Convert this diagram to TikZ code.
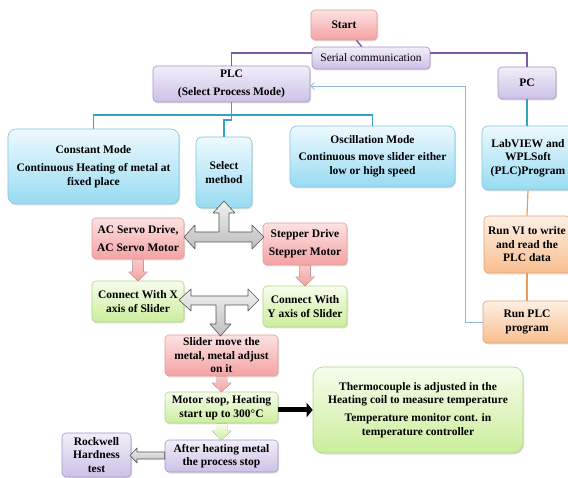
\documentclass[tikz,border=0pt]{standalone}
\usepackage{fontspec}
\setmainfont{Liberation Serif}
\usetikzlibrary{shadows,arrows.meta,calc}
\definecolor{pinkT}{HTML}{FCE2E2}\definecolor{pinkB}{HTML}{F4A2A2}\definecolor{pinkD}{HTML}{E39A9A}
\definecolor{lavT}{HTML}{F2EEF9}\definecolor{lavB}{HTML}{CDC1E6}\definecolor{lavD}{HTML}{A593C9}
\definecolor{cyanT}{HTML}{EDF9FD}\definecolor{cyanB}{HTML}{98DBF2}\definecolor{cyanD}{HTML}{7FC6DE}
\definecolor{orT}{HTML}{FEF0E5}\definecolor{orB}{HTML}{F8BE8E}\definecolor{orD}{HTML}{E3A276}
\definecolor{grT}{HTML}{F7FCEC}\definecolor{grB}{HTML}{CBEE9C}\definecolor{grD}{HTML}{AFD58A}
\definecolor{purL}{HTML}{7D5BA6}\definecolor{tealL}{HTML}{31A3C4}\definecolor{orL}{HTML}{EE9A5C}\definecolor{bluL}{HTML}{8FB3DE}
\newcommand\fs{\fontsize{11.5}{13.5}\selectfont\bfseries}
\tikzset{
  bx/.style={rounded corners=4pt, inner sep=0pt, align=center, font=\fs, line width=0.6pt,
    drop shadow={shadow xshift=1pt, shadow yshift=-1.5pt, opacity=0.25}},
  wh/.style 2 args={minimum width=#1pt, minimum height=#2pt},
  pinkbox/.style={bx, draw=pinkD, top color=pinkT, bottom color=pinkB},
  lavbox/.style={bx, draw=lavD, top color=lavT, bottom color=lavB},
  cyanbox/.style={bx, draw=cyanD, top color=cyanT, bottom color=cyanB},
  orbox/.style={bx, draw=orD, top color=orT, bottom color=orB},
  grbox/.style={bx, draw=grD, top color=grT, bottom color=grB},
  purline/.style={purL, line width=1.4pt},
  tealline/.style={tealL, line width=1.2pt},
  orline/.style={orL, line width=1.2pt},
  grayarrow/.style={draw=gray!65!black, line width=0.6pt, top color=gray!12, bottom color=gray!50, line join=round},
}
\newcommand\dnarrow[4]{\fill[#4] (#1-5.5,#2) -- (#1+5.5,#2) -- (#1+5.5,#3-9) -- (#1+9.5,#3-9) -- (#1,#3) -- (#1-9.5,#3-9) -- (#1-5.5,#3-9) -- cycle;}
\begin{document}
\begin{tikzpicture}[x=1pt,y=-1pt]
\useasboundingbox (0,0) rectangle (568,478);
% boxes
\node[pinkbox, wh={66}{30}] (start) at (344,25) {Start};
\node[lavbox, wh={118}{22}, font=\fontsize{11.5}{13.5}\selectfont] (serial) at (371,58) {Serial communication};
\node[lavbox, wh={157}{36}] (plc) at (231.5,84) {PLC\\[4.5pt](Select Process Mode)};
\node[lavbox, wh={58}{32}] (pc) at (527,83) {PC};
\node[cyanbox, wh={171}{75}, rounded corners=8pt] (constant) at (93.5,166.5) {Constant Mode\\[5pt]Continuous Heating of metal at\\fixed place};
\node[cyanbox, wh={56}{71}, rounded corners=6pt] (select) at (224,172.5) {Select\\method};
\node[cyanbox, wh={165}{61}, rounded corners=7pt] (oscill) at (372.5,156.5) {Oscillation Mode\\[3.5pt]Continuous move slider either\\low or high speed};
\node[cyanbox, wh={92}{64}, rounded corners=6pt] (labview) at (528,158) {LabVIEW and\\WPLSoft\\(PLC)Program};
\node[orbox, wh={86}{57}] (runvi) at (527,244.5) {Run VI to write\\and read the\\PLC data};
\node[orbox, wh={88}{42}] (runplc) at (527,322) {Run PLC\\program};
\node[pinkbox, wh={92}{41}] (acservo) at (138,238.5) {AC Servo Drive,\\[4.5pt]AC Servo Motor};
\node[pinkbox, wh={84}{42}] (stepper) at (305,244) {Stepper Drive\\[4.5pt]Stepper Motor};
\node[grbox, wh={92}{41}] (connx) at (138,301.5) {Connect With X\\axis of Slider};
\node[grbox, wh={84}{41}] (conny) at (305,306.5) {Connect With\\Y axis of Slider};
\node[pinkbox, wh={113}{41}] (slider) at (221.5,355.5) {Slider move the\\metal, metal adjust\\on it};
\node[grbox, wh={113}{31}] (motor) at (221.5,407.5) {Motor stop, Heating\\start up to 300°C};
\node[lavbox, wh={113}{32}] (after) at (221.5,456) {After heating metal\\the process stop};
\node[grbox, wh={210}{86}, rounded corners=10pt] (thermo) at (418,410) {Thermocouple is adjusted in the\\Heating coil to measure temperature\\[4.5pt]Temperature monitor cont. in\\temperature controller};
\node[lavbox, wh={69}{44}] (rockwell) at (96.5,455) {Rockwell\\Hardness\\test};
% purple connectors
\draw[purline] (start) -- (serial);
\draw[purline] ([yshift=5pt]serial.west) -| (plc.north);
\draw[purline] ([yshift=5pt]serial.east) -| (pc.north);
% teal connectors
\coordinate (tj) at (231.5,115);
\draw[tealline] (plc.south) -- (tj);
\draw[tealline] (constant.north) |- (tj) -| (oscill.north);
\draw[tealline] (tj) -- ++(0,5) -| (select.north);
\draw[tealline] (pc.south) -- (pc.south|-labview.north);
% orange connectors
\draw[orline] (labview.south) -- (runvi.north);
\draw[orline] (runvi.south) -- (runplc.north);
% blue feedback
\coordinate (bl) at (465,86);
\draw[bluL, line width=0.8pt, -{Straight Barb[length=3.5pt,width=7pt]}] (runplc.west) -| (bl) -- (plc.east|-bl);
% grey T arrows
\draw[grayarrow] (184,237) -- (195,225) -- (195,232) -- (219,232) -- (219,213) -- (213,213) -- (224,201) -- (235,213) -- (229,213) -- (229,232) -- (252,232) -- (252,225) -- (264,237) -- (252,249) -- (252,242) -- (195,242) -- (195,249) -- cycle;
\draw[grayarrow] (179,300) -- (191,289) -- (191,296) -- (248,296) -- (248,289) -- (259,300) -- (248,311) -- (248,305) -- (225,305) -- (225,324) -- (231,324) -- (220.5,336) -- (210,324) -- (216,324) -- (216,305) -- (191,305) -- (191,311) -- cycle;
% small block arrows
\dnarrow{138}{260}{281}{top color=pinkT!60!pinkB, bottom color=pinkB}
\dnarrow{305}{266}{286}{top color=pinkT!60!pinkB, bottom color=pinkB}
\dnarrow{221.5}{377}{392}{top color=pinkT!60!pinkB, bottom color=pinkB}
\dnarrow{221.5}{424}{440}{top color=grT, bottom color=grB}
% black arrow
\draw[line width=5pt, -{Triangle[length=6pt,width=14pt]}] (motor.east|-thermo.west) -- (thermo.west);
% hollow grey arrow
\draw[grayarrow] (130,455.5) -- (137,448) -- (137,452) -- (after.west|-0,452) -- (after.west|-0,459) -- (137,459) -- (137,463) -- cycle;
\end{tikzpicture}
\end{document}
